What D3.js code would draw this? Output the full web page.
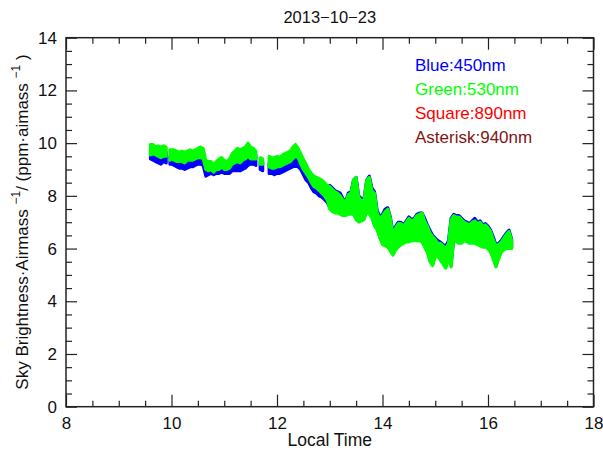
<!DOCTYPE html>
<html>
<head>
<meta charset="utf-8">
<script src="https://cdn.jsdelivr.net/npm/d3@7"></script>
<style>
  body { margin: 0; background: #fff; }
  text { font-family: "Liberation Sans", Arial, sans-serif; }
</style>
</head>
<body>
<svg id="Vis" width="603" height="454"></svg>
<script>
// local time (h); null rows are gaps in the record
var times = [
  9.60, 9.65, 9.70, 9.75, 9.80, 9.85, 9.90, 9.94,
  9.97, 10.00, 10.05, 10.10, 10.15, 10.20, 10.25, 10.30, 10.35, 10.40, 10.45, 10.50, 10.55, 10.60, 10.65, 10.70, 10.75,
  10.80, 10.85, 10.90, 10.95, 11.00, 11.05, 11.10, 11.15, 11.20, 11.25, 11.30, 11.35, 11.40, 11.45, 11.50, 11.55, 11.60,
  11.64, 11.68, 11.73, 11.78,
  11.85, 11.90, 11.95, 12.00, 12.05, 12.10, 12.15, 12.20, 12.25, 12.30, 12.35, 12.40, 12.45, 12.50, 12.55, 12.60, 12.65, 12.70, 12.75, 12.80, 12.85, 12.90, 12.95,
  13.00, 13.05, 13.10, 13.15, 13.20, 13.25, 13.30, 13.35, 13.40, 13.45, 13.50, 13.55, 13.60, 13.65, 13.70, 13.75, 13.80, 13.85, 13.90, 13.95,
  14.00, 14.05, 14.10, 14.15, 14.20, 14.25, 14.30, 14.35, 14.40, 14.45, 14.50, 14.55, 14.60, 14.65, 14.70, 14.75, 14.80, 14.85, 14.90, 14.95,
  15.00, 15.05, 15.10, 15.15, 15.20, 15.25, 15.30, 15.35, 15.40, 15.45, 15.50, 15.55, 15.60, 15.65, 15.70, 15.75, 15.80, 15.85, 15.90, 15.95,
  16.00, 16.05, 16.10, 16.15, 16.20, 16.25, 16.30, 16.35, 16.40, 16.45
];

// green 530nm scatter, upper and lower edge
var greenHi = [
  9.95, 9.95, 9.85, 9.90, 9.85, 9.90, 9.85, null,
  9.75, 9.75, 9.75, 9.70, 9.65, 9.70, 9.65, 9.70, 9.75, 9.70, 9.75, 9.80, 9.85, 9.80, 9.35, 9.30, 9.30,
  9.20, 9.30, 9.40, 9.45, 9.35, 9.30, 9.40, 9.60, 9.70, 9.80, 9.75, 9.80, 9.85, 10.00, 9.85, 9.80, 9.70,
  null, 9.45, 9.40, null,
  9.50, 9.45, 9.45, 9.50, 9.45, 9.55, 9.60, 9.65, 9.70, 9.85, 9.95, 9.80, 9.60, 9.40, 9.20, 9.00, 8.85, 8.75, 8.70, 8.65, 8.60, 8.50, 8.40,
  8.35, 8.25, 8.15, 8.10, 8.00, 7.85, 7.75, 8.05, 8.10, 8.60, 8.70, 7.95, 7.80, 7.85, 8.60, 8.70, 8.20, 8.10, 7.35, 7.15,
  7.25, 7.40, 7.50, 7.15, 6.50, 6.80, 6.95, 6.95, 6.85, 7.00, 7.15, 7.05, 7.10, 7.25, 7.30, 7.35, 7.05, 6.85, 6.60, 6.45,
  6.35, 6.20, 6.20, 6.10, 6.00, 6.20, 7.10, 7.25, 7.20, 7.20, 7.10, 7.00, 6.95, 6.90, 7.00, 7.05, 6.95, 7.00, 6.85, 6.90,
  6.80, 6.65, 6.35, 6.10, 6.15, 6.25, 6.40, 6.55, 6.65, 6.30
];
var greenLo = [
  9.55, 9.60, 9.55, 9.50, 9.45, 9.50, 9.50, null,
  9.35, 9.40, 9.35, 9.30, 9.30, 9.30, 9.25, 9.35, 9.35, 9.35, 9.40, 9.45, 9.45, 9.40, 9.00, 8.95, 9.00,
  8.90, 9.00, 9.00, 9.10, 9.00, 9.00, 9.05, 9.20, 9.25, 9.30, 9.25, 9.35, 9.40, 9.50, 9.40, 9.40, 9.40,
  null, 9.20, 9.20, null,
  9.10, 9.05, 9.05, 9.10, 9.10, 9.15, 9.20, 9.25, 9.30, 9.40, 9.50, 9.45, 9.20, 9.00, 8.85, 8.70, 8.50, 8.35, 8.30, 8.20, 8.10, 8.00, 7.85,
  7.50, 7.40, 7.35, 7.35, 7.30, 7.25, 7.25, 7.30, 7.30, 7.30, 7.10, 7.00, 7.05, 7.10, 7.40, 7.30, 7.15, 6.85, 6.70, 6.40,
  6.15, 6.10, 6.05, 5.90, 5.75, 5.95, 6.05, 6.15, 6.20, 6.25, 6.25, 6.30, 6.30, 6.30, 6.30, 6.25, 6.05, 5.85, 5.50, 5.35,
  5.70, 5.70, 5.55, 5.40, 5.25, 5.65, 5.30, 6.30, 6.25, 6.20, 6.20, 6.30, 6.25, 6.20, 6.20, 6.20, 6.15, 6.10, 6.05, 6.05,
  6.00, 5.85, 5.60, 5.30, 5.60, 5.85, 5.95, 6.00, 6.00, 6.00
];

// blue 450nm scatter, upper and lower edge
var blueHi = [
  9.70, 9.75, 9.70, 9.65, 9.60, 9.65, 9.65, null,
  9.50, 9.55, 9.50, 9.45, 9.45, 9.45, 9.40, 9.50, 9.50, 9.50, 9.55, 9.60, 9.60, 9.55, 9.15, 9.10, 9.15,
  9.05, 9.15, 9.15, 9.25, 9.15, 9.15, 9.20, 9.35, 9.40, 9.45, 9.40, 9.50, 9.55, 9.65, 9.55, 9.55, 9.55,
  null, 9.30, 9.30, null,
  9.25, 9.20, 9.20, 9.25, 9.25, 9.30, 9.35, 9.40, 9.45, 9.55, 9.65, 9.60, 9.35, 9.15, 9.00, 8.85, 8.65, 8.50, 8.45, 8.35, 8.30, 8.20, 8.10,
  8.40, 8.30, 8.20, 8.15, 8.10, 7.90, 7.80, 8.10, 8.15, 8.60, 8.70, 8.00, 7.90, 7.90, 8.60, 8.75, 8.30, 8.15, 7.45, 7.20,
  7.30, 7.50, 7.55, 7.20, 6.60, 6.85, 7.00, 7.00, 6.90, 7.05, 7.20, 7.10, 7.15, 7.30, 7.35, 7.35, 7.15, 6.90, 6.70, 6.50,
  6.40, 6.30, 6.25, 6.15, 6.10, 6.30, 7.15, 7.30, 7.25, 7.25, 7.15, 7.05, 7.00, 6.95, 7.05, 7.15, 7.00, 7.05, 6.90, 6.95,
  6.85, 6.70, 6.45, 6.15, 6.20, 6.30, 6.45, 6.60, 6.70, 6.35
];
var blueLo = [
  9.40, 9.35, 9.30, 9.25, 9.20, 9.30, 9.25, null,
  9.20, 9.20, 9.15, 9.10, 9.05, 9.05, 9.00, 9.05, 9.10, 9.10, 9.15, 9.20, 9.20, 9.15, 8.75, 8.80, 8.85,
  8.80, 8.85, 8.85, 8.90, 8.85, 8.85, 8.85, 8.95, 8.95, 8.95, 8.95, 9.00, 9.05, 9.15, 9.20, 9.20, 9.15,
  null, 9.00, 8.95, null,
  8.85, 8.85, 8.80, 8.85, 8.85, 8.90, 8.95, 9.00, 9.05, 9.10, 9.15, 9.10, 9.00, 8.80, 8.60, 8.50, 8.30, 8.15, 8.10, 8.00, 7.95, 7.85, 7.75,
  7.55, 7.45, 7.40, 7.40, 7.35, 7.30, 7.30, 7.35, 7.35, 7.35, 7.15, 7.05, 7.10, 7.15, 7.45, 7.35, 7.20, 6.90, 6.75, 6.45,
  6.20, 6.15, 6.10, 5.95, 5.80, 6.00, 6.10, 6.20, 6.25, 6.30, 6.30, 6.35, 6.35, 6.35, 6.35, 6.30, 6.10, 5.90, 5.55, 5.40,
  5.75, 5.75, 5.60, 5.45, 5.30, 5.70, 5.35, 6.35, 6.30, 6.25, 6.25, 6.35, 6.30, 6.25, 6.25, 6.25, 6.20, 6.15, 6.10, 6.10,
  6.05, 5.90, 5.65, 5.35, 5.65, 5.90, 6.00, 6.05, 6.05, 6.05
];

var xTicks = [8, 10, 12, 14, 16, 18];
var yTicks = [0, 2, 4, 6, 8, 10, 12, 14];
var legendLabels = ["Blue:450nm", "Green:530nm", "Square:890nm", "Asterisk:940nm"];
var legendColors = ["#0000ff", "#00ff00", "#ff0000", "#7f1515"];
var chartTitle = "2013\u221210\u221223";

var svg = d3.select("#Vis");
var plotLeft = 66, plotRight = 593.5, plotTop = 37.7, plotBottom = 406.7;

var x = d3.scaleLinear().domain([8, 18]).range([plotLeft, plotRight]);
var y = d3.scaleLinear().domain([0, 14]).range([plotBottom, plotTop]);

function drawBand(hi, lo, color){
  var area = d3.area()
      .defined(function(i){ return hi[i] != null; })
      .x(function(i){ return x(times[i]); })
      .y0(function(i){ return y(lo[i]); })
      .y1(function(i){ return y(hi[i]); });
  svg.append("path")
     .datum(d3.range(times.length))
     .attr("d", area)
     .attr("fill", color)
     .attr("stroke", color)
     .attr("stroke-width", 3)
     .attr("stroke-linejoin", "round");
}

drawBand(blueHi, blueLo, "#0000ff");
drawBand(greenHi, greenLo, "#00ff00");

// minor ticks every 0.5
var xMinor = d3.range(8, 18.01, 0.5).filter(function(v){ return v % 2 != 0; });
var yMinor = d3.range(0, 14.01, 0.5).filter(function(v){ return v % 2 != 0; });

function styleAxis(g){
  g.select(".domain").remove();
  g.selectAll("line").attr("stroke", "#222").attr("stroke-width", 1.2);
  g.selectAll("text").attr("fill", "#111").style("font-size", "17px")
   .style("font-family", "'Liberation Sans', Arial, sans-serif");
}

svg.append("g").attr("transform", "translate(0," + plotBottom + ")")
   .call(d3.axisBottom(x).tickValues(xTicks).tickSize(-12).tickPadding(10).tickFormat(d3.format("d")))
   .call(styleAxis);
svg.append("g").attr("transform", "translate(0," + plotBottom + ")")
   .call(d3.axisBottom(x).tickValues(xMinor).tickSize(-6).tickFormat(""))
   .call(styleAxis);
svg.append("g").attr("transform", "translate(0," + plotTop + ")")
   .call(d3.axisTop(x).tickValues(xTicks).tickSize(-12).tickFormat(""))
   .call(styleAxis);
svg.append("g").attr("transform", "translate(0," + plotTop + ")")
   .call(d3.axisTop(x).tickValues(xMinor).tickSize(-6).tickFormat(""))
   .call(styleAxis);

svg.append("g").attr("transform", "translate(" + plotLeft + ",0)")
   .call(d3.axisLeft(y).tickValues(yTicks).tickSize(-11).tickPadding(9).tickFormat(d3.format("d")))
   .call(styleAxis);
svg.append("g").attr("transform", "translate(" + plotLeft + ",0)")
   .call(d3.axisLeft(y).tickValues(yMinor).tickSize(-6).tickFormat(""))
   .call(styleAxis);
svg.append("g").attr("transform", "translate(" + plotRight + ",0)")
   .call(d3.axisRight(y).tickValues(yTicks).tickSize(-11).tickFormat(""))
   .call(styleAxis);
svg.append("g").attr("transform", "translate(" + plotRight + ",0)")
   .call(d3.axisRight(y).tickValues(yMinor).tickSize(-6).tickFormat(""))
   .call(styleAxis);

svg.append("rect")
   .attr("x", plotLeft).attr("y", plotTop)
   .attr("width", plotRight - plotLeft).attr("height", plotBottom - plotTop)
   .attr("fill", "none").attr("stroke", "#222").attr("stroke-width", 1.5);

svg.append("text")
   .attr("x", (plotLeft + plotRight) / 2).attr("y", 23)
   .attr("text-anchor", "middle").style("font-size", "16.5px").attr("fill", "#111")
   .text(chartTitle);

svg.append("text")
   .attr("x", (plotLeft + plotRight) / 2).attr("y", 446)
   .attr("text-anchor", "middle").style("font-size", "17.5px").attr("fill", "#111")
   .text("Local Time");

var yLabel = svg.append("text")
   .attr("transform", "translate(28,222) rotate(-90)")
   .attr("text-anchor", "middle").style("font-size", "17px").attr("fill", "#111");
yLabel.append("tspan").text("Sky Brightness\u00b7Airmass ");
yLabel.append("tspan").attr("dy", -8).style("font-size", "12px").text("\u22121");
yLabel.append("tspan").attr("dy", 8).text("/ (ppm\u00b7aimass ");
yLabel.append("tspan").attr("dy", -8).style("font-size", "12px").text("\u22121");
yLabel.append("tspan").attr("dy", 8).text(" )");

svg.selectAll(".legend")
   .data(legendLabels)
   .enter()
   .append("text")
   .attr("class", "legend")
   .attr("x", 415)
   .attr("y", function(d, i){ return 71 + i * 24; })
   .style("font-size", "17px")
   .attr("fill", function(d, i){ return legendColors[i]; })
   .text(function(d){ return d; });
</script>
</body>
</html>
